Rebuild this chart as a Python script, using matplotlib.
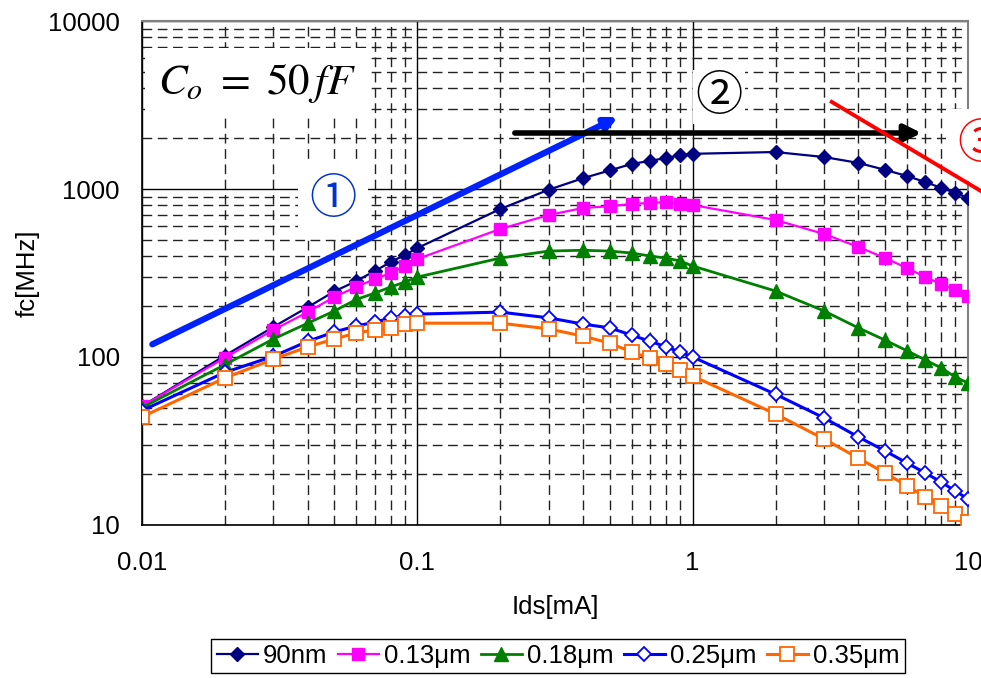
import matplotlib
matplotlib.use("Agg")
import matplotlib.pyplot as plt
from matplotlib.ticker import LogLocator, FixedLocator, NullFormatter

plt.rcParams['font.family'] = ['Liberation Sans', 'DejaVu Sans']
plt.rcParams['mathtext.fontset'] = 'stix'

# drain current [mA]
ids = [0.01, 0.02, 0.03, 0.04, 0.05, 0.06, 0.07, 0.08, 0.09, 0.1,
       0.2, 0.3, 0.4, 0.5, 0.6, 0.7, 0.8, 0.9, 1,
       2, 3, 4, 5, 6, 7, 8, 9, 10]

# cutoff frequency fc [MHz] per technology node
fc_90nm = [51, 102, 151, 198, 246, 283, 325, 367, 405, 445,
           760, 990, 1160, 1290, 1410, 1470, 1530, 1590, 1620,
           1660, 1550, 1430, 1300, 1195, 1100, 1015, 947, 884]
fc_013 = [51, 99, 145, 185, 228, 261, 291, 316, 348, 383,
          578, 700, 771, 790, 815, 826, 837, 815, 803,
          654, 540, 452, 388, 339, 299, 272, 250, 231]
fc_018 = [50, 90, 128, 159, 188, 220, 240, 261, 279, 299,
          388, 427, 432, 427, 416, 399, 388, 373, 348,
          247, 188, 149, 126, 109, 96, 86, 76, 70]
fc_025 = [48, 81, 101, 124, 141, 153, 161, 171, 175, 180,
          185, 171, 157, 149, 135, 124, 115, 107, 100,
          60, 43.4, 33.4, 27.6, 23.4, 20.4, 18, 15.9, 14.3]
fc_035 = [44, 75, 97, 115, 128, 139, 145, 149, 157, 159,
          159, 147, 133, 121, 107, 98.6, 90.8, 83.7, 77,
          45.8, 32.5, 25, 20.4, 17.1, 14.7, 13, 11.6, 10.4]

labels = ["90nm", "0.13μm", "0.18μm", "0.25μm", "0.35μm"]

fig = plt.figure(figsize=(9.81, 6.78), dpi=100)
ax = fig.add_axes([0.1448, 0.2257, 0.8419, 0.7433])
ax.set_xscale('log')
ax.set_yscale('log')
ax.set_xlim(0.01, 10)
ax.set_ylim(10, 10000)

ax.plot(ids, fc_90nm, color='#000080', lw=1.6, marker='D', ms=7.5,
        label=labels[0], zorder=5)
ax.plot(ids, fc_013, color='#ff00ff', lw=1.6, marker='s', ms=9,
        label=labels[1], zorder=5)
ax.plot(ids, fc_018, color='#008000', lw=2, marker='^', ms=9.5,
        label=labels[2], zorder=5)
ax.plot(ids, fc_025, color='#0000ff', lw=2.2, marker='D', ms=7.5,
        mfc='white', mec='#0000ff', mew=1.3, label=labels[3], zorder=5)
ax.plot(ids, fc_035, color='#ff6600', lw=2.2, marker='s', ms=10,
        mfc='white', mec='#ff6600', mew=1.3, label=labels[4], zorder=5)

# grid
ax.set_axisbelow(True)
ax.xaxis.set_minor_locator(LogLocator(base=10, subs=range(2, 10)))
ax.yaxis.set_minor_locator(LogLocator(base=10, subs=range(2, 10)))
ax.xaxis.set_minor_formatter(NullFormatter())
ax.yaxis.set_minor_formatter(NullFormatter())
ax.grid(which='major', color='black', lw=1, ls='-')
ax.grid(which='minor', color='#222222', lw=1, ls=(0, (7, 4)))

ax.xaxis.set_major_locator(FixedLocator([0.01, 0.1, 1, 10]))
ax.set_xticklabels(["0.01", "0.1", "1", "10"])
ax.yaxis.set_major_locator(FixedLocator([10, 100, 1000, 10000]))
ax.set_yticklabels(["10", "100", "1000", "10000"])
ax.tick_params(which='both', length=0)
ax.tick_params(axis='x', pad=19, labelsize=18.5)
ax.tick_params(axis='y', pad=16, labelsize=18.5)

for s in ['top', 'right']:
    ax.spines[s].set_color('#808080')
    ax.spines[s].set_linewidth(1.5)
for s in ['left', 'bottom']:
    ax.spines[s].set_color('black')
    ax.spines[s].set_linewidth(1.2)

ax.set_xlabel("Ids[mA]", fontsize=18.5, labelpad=14)
ax.set_ylabel("fc[MHz]", fontsize=18.5, labelpad=6)

# annotations
circ = ['Noto Sans CJK JP', 'DejaVu Sans']
ax.text(0.0262, 4300, r"$C_o\ =\ 50\,fF$", fontsize=31, ha='center',
        va='center', zorder=1,
        bbox=dict(boxstyle='square,pad=0.3', fc='white', ec='none'))
ax.text(0.0494, 860, "①", fontsize=34, color='#0033cc', family=circ,
        ha='center', va='center', zorder=1,
        bbox=dict(boxstyle='square,pad=0.25', fc='white', ec='none'))
ax.text(1.25, 3530, "②", fontsize=34, color='black', family=circ,
        ha='center', va='center', zorder=1,
        bbox=dict(boxstyle='square,pad=0.05', fc='white', ec='none'))
ax.text(11.2, 1830, "③", fontsize=34, color='red', family=circ,
        ha='center', va='center', zorder=3, clip_on=False,
        bbox=dict(boxstyle='square,pad=0.25', fc='white', ec='none'))

ax.annotate("", xy=(0.535, 2680), xytext=(0.0109, 119),
            arrowprops=dict(arrowstyle='-|>', lw=4.5, color='#0022ff',
                            mutation_scale=18, shrinkA=0, shrinkB=0),
            zorder=4)
ax.annotate("", xy=(6.78, 2155), xytext=(0.226, 2155),
            arrowprops=dict(arrowstyle='-|>', lw=4, color='black',
                            mutation_scale=25, shrinkA=0, shrinkB=0),
            zorder=4)
ax.plot([3.2, 12], [3300, 905], color='red', lw=2.8, clip_on=False, zorder=4)

leg = fig.legend(loc='upper center', bbox_to_anchor=(0.569, 0.058), ncol=5,
                 fontsize=18.5, handlelength=1.6, handletextpad=0.2,
                 columnspacing=0.4, borderpad=0.2, fancybox=False,
                 framealpha=1, edgecolor='black', borderaxespad=0)
leg.get_frame().set_linewidth(1)

fig.savefig("out.png", dpi=100)
